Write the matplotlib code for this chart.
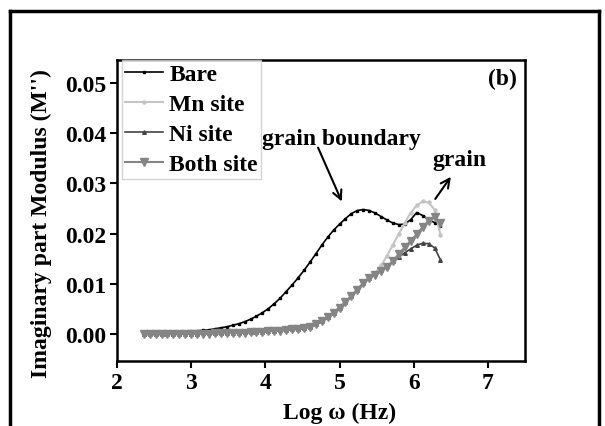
import matplotlib.pyplot as plt
from matplotlib.lines import Line2D

plt.rcParams['font.family'] = ['Liberation Serif', 'DejaVu Serif']
plt.rcParams['font.weight'] = 'bold'

# log frequency grid (shared by all samples)
log_w = [2.36, 2.44, 2.52, 2.60, 2.68, 2.76, 2.84, 2.92, 3.00, 3.08,
         3.16, 3.24, 3.32, 3.40, 3.48, 3.56, 3.64, 3.72, 3.80, 3.88,
         3.96, 4.04, 4.12, 4.20, 4.28, 4.36, 4.44, 4.52, 4.60, 4.68,
         4.76, 4.84, 4.92, 5.00, 5.08, 5.16, 5.24, 5.32, 5.40, 5.48,
         5.56, 5.64, 5.72, 5.80, 5.88, 5.96, 6.04, 6.12, 6.20, 6.28, 6.36]

bare = [0.0001, 0.0001, 0.0002, 0.0002, 0.0003, 0.0003, 0.0004, 0.0005, 0.0006, 0.0007,
        0.0008, 0.0009, 0.0011, 0.0013, 0.0015, 0.0018, 0.0021, 0.0025, 0.0030, 0.0036,
        0.0043, 0.0051, 0.0061, 0.0072, 0.0085, 0.0098, 0.0112, 0.0127, 0.0143, 0.0160,
        0.0177, 0.0193, 0.0207, 0.0219, 0.0230, 0.0240, 0.0246, 0.0248, 0.0246, 0.0241,
        0.0234, 0.0227, 0.0221, 0.0218, 0.0219, 0.0228, 0.0242, 0.0236, 0.0228, 0.0222, 0.0216]

mn_site = [0.0000, 0.0000, 0.0000, 0.0000, 0.0001, 0.0001, 0.0001, 0.0001, 0.0001, 0.0001,
           0.0002, 0.0002, 0.0002, 0.0002, 0.0003, 0.0003, 0.0003, 0.0004, 0.0004, 0.0005,
           0.0005, 0.0006, 0.0007, 0.0008, 0.0009, 0.0010, 0.0011, 0.0013, 0.0016, 0.0021,
           0.0027, 0.0035, 0.0044, 0.0054, 0.0065, 0.0077, 0.0090, 0.0103, 0.0115, 0.0122,
           0.0137, 0.0156, 0.0178, 0.0200, 0.0222, 0.0242, 0.0256, 0.0264, 0.0262, 0.0248, 0.0198]

ni_site = [0.0000, 0.0000, 0.0000, 0.0000, 0.0001, 0.0001, 0.0001, 0.0001, 0.0001, 0.0001,
           0.0002, 0.0002, 0.0002, 0.0002, 0.0003, 0.0003, 0.0003, 0.0004, 0.0004, 0.0005,
           0.0005, 0.0006, 0.0007, 0.0008, 0.0009, 0.0010, 0.0010, 0.0012, 0.0015, 0.0020,
           0.0026, 0.0034, 0.0043, 0.0053, 0.0064, 0.0076, 0.0089, 0.0101, 0.0111, 0.0119,
           0.0127, 0.0136, 0.0145, 0.0154, 0.0162, 0.0170, 0.0177, 0.0181, 0.0180, 0.0172, 0.0148]

both_site = [0.0000, 0.0000, 0.0000, 0.0000, 0.0000, 0.0000, 0.0000, 0.0001, 0.0001, 0.0001,
             0.0001, 0.0001, 0.0002, 0.0002, 0.0002, 0.0003, 0.0003, 0.0003, 0.0004, 0.0004,
             0.0005, 0.0006, 0.0007, 0.0007, 0.0008, 0.0010, 0.0010, 0.0012, 0.0015, 0.0020,
             0.0026, 0.0034, 0.0043, 0.0053, 0.0064, 0.0076, 0.0089, 0.0101, 0.0112, 0.0118,
             0.0125, 0.0134, 0.0146, 0.0160, 0.0173, 0.0186, 0.0199, 0.0213, 0.0226, 0.0233, 0.0222]

fig = plt.figure(figsize=(6.05, 4.27), dpi=100)
ax = fig.add_axes([0.1934, 0.1522, 0.6744, 0.7049])

ax.plot(log_w, bare, color='black', lw=1.2, marker='s', ms=1.7, label='Bare')
ax.plot(log_w, mn_site, color='#c4c4c4', lw=1.5, marker='o', ms=2.2, label='Mn site')
ax.plot(log_w, ni_site, color='#444444', lw=1.2, marker='^', ms=2.6, label='Ni site')
ax.plot(log_w, both_site, color='#858585', lw=1.5, marker='v', ms=5.5, label='Both site')

ax.set_xlim(2, 7.5)
ax.set_ylim(-0.0053, 0.0545)
ax.set_xticks([2, 3, 4, 5, 6, 7])
ax.set_yticks([0.00, 0.01, 0.02, 0.03, 0.04, 0.05])
ax.set_yticklabels(['0.00', '0.01', '0.02', '0.03', '0.04', '0.05'])
ax.tick_params(direction='out', length=5, width=1.5, pad=3, labelsize=17)
for s in ax.spines.values():
    s.set_linewidth(1.8)

ax.set_xlabel('Log ω (Hz)', fontsize=17, fontweight='bold')
ax.xaxis.set_label_coords(0.545, -0.136)
ax.set_ylabel("Imaginary part Modulus (M'')", fontsize=17, fontweight='bold')
ax.yaxis.set_label_coords(-0.16, 0.46)

leg = ax.legend(loc='upper left', bbox_to_anchor=(0.012, 1.0), borderaxespad=0,
                fontsize=17, frameon=True, fancybox=False, edgecolor='#c8c8c8',
                handlelength=1.6, handletextpad=0.25, labelspacing=0.36,
                borderpad=0.15, markerscale=1.0)
leg.get_frame().set_linewidth(1.0)

ax.text(0.98, 0.94, '(b)', transform=ax.transAxes, ha='right', va='center',
        fontsize=17, fontweight='bold')

ax.text(3.95, 0.0378, 'grain boundary', fontsize=17, fontweight='bold',
        ha='left', va='baseline')
ax.annotate('', xy=(5.03, 0.0264), xytext=(4.71, 0.0371),
            arrowprops=dict(arrowstyle='->', color='black', lw=1.5,
                            mutation_scale=16, shrinkA=0, shrinkB=0))
ax.annotate('', xy=(6.50, 0.0313), xytext=(6.29, 0.0269),
            arrowprops=dict(arrowstyle='->', color='black', lw=1.5,
                            mutation_scale=16, shrinkA=0, shrinkB=0))
ax.text(6.62, 0.0347, 'grain', fontsize=17, fontweight='bold', ha='center', va='center')

# outer frame of the figure panel
for xs, ys in [([0.017, 0.017], [0.0, 0.973]), ([0.017, 0.99], [0.973, 0.973]),
               ([0.99, 0.99], [0.0, 0.973])]:
    fig.add_artist(Line2D(xs, ys, color='black', lw=2.5, transform=fig.transFigure))

fig.savefig('out.png', dpi=100)
